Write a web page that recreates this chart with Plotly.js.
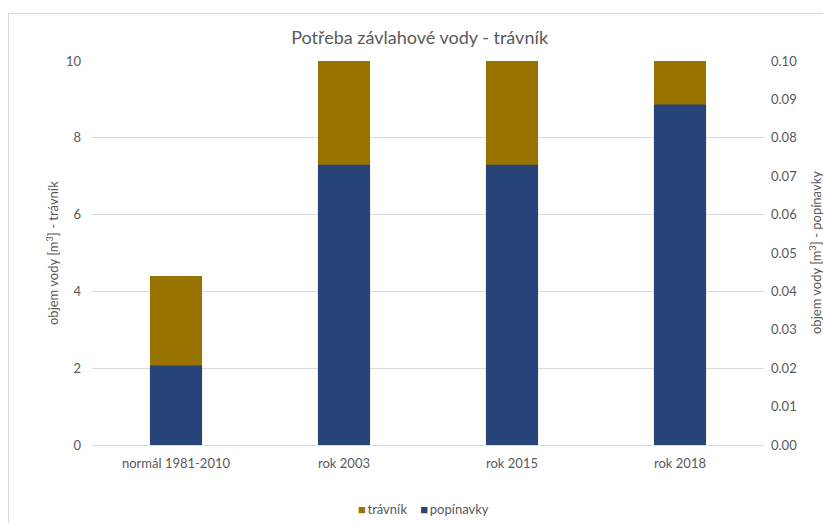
<!DOCTYPE html>
<html>
<head>
<meta charset="utf-8">
<script src="https://cdn.plot.ly/plotly-3.0.1.min.js"></script>
<style>
  html, body { margin: 0; padding: 0; background: #fff; }
  #wrap { position: relative; width: 823px; height: 523px; overflow: hidden; }
  #chart { position: absolute; left: 0; top: 0; width: 823px; height: 523px; }
  #frame { position: absolute; left: 8px; top: 13px; width: 900px; height: 600px;
           border-left: 1px solid #d9d9d9; border-top: 1px solid #d9d9d9; pointer-events: none; }
</style>
</head>
<body>
<div id="wrap">
  <div id="chart"></div>
  <div id="frame"></div>
</div>
<script>
// Water demand per period
const categories = ['normál 1981-2010', 'rok 2003', 'rok 2015', 'rok 2018'];
const travnik = [4.4, 10, 10, 10];                // m3, left axis
const popinavky = [0.0207, 0.073, 0.073, 0.0887]; // m3, right axis
const seriesNames = ['trávník', 'popínavky'];
const seriesColors = ['#997300', '#264478'];
const leftAxisTitle = 'objem vody [m<sup>3</sup>] - trávník';
const rightAxisTitle = 'objem vody [m<sup>3</sup>] - popínavky';

const FONT = 'Lato, "Open Sans", sans-serif';
const GREY = '#595959';

const traces = [
  {
    type: 'bar', name: seriesNames[0], x: categories, y: travnik,
    marker: { color: seriesColors[0] }, width: 0.31, yaxis: 'y'
  },
  {
    type: 'bar', name: seriesNames[1], x: categories, y: popinavky,
    marker: { color: seriesColors[1] }, width: 0.31, yaxis: 'y2'
  }
];

// compact legend row under the plot: coloured square + series name
const legendText = seriesNames.map((n, i) =>
  '<span style="color:' + seriesColors[i] + '">■</span>&#8201;' + n).join('&nbsp;&nbsp;&nbsp;&nbsp;');

const layout = {
  width: 823, height: 523,
  margin: { l: 92, r: 59, t: 61, b: 78 },
  paper_bgcolor: 'rgba(0,0,0,0)', plot_bgcolor: 'rgba(0,0,0,0)',
  font: { family: FONT, color: GREY, size: 13 },
  barmode: 'overlay',
  title: {
    text: 'Potřeba závlahové vody - trávník',
    font: { family: FONT, size: 18, color: GREY },
    x: 0.510, xanchor: 'center', y: 0.927, yanchor: 'middle'
  },
  xaxis: {
    type: 'category', showgrid: false, showline: true, linecolor: '#d9d9d9',
    ticks: '', tickfont: { size: 13, color: GREY }, zeroline: false,
    ticklabelstandoff: 6
  },
  yaxis: {
    range: [0, 10], dtick: 2, showgrid: true, gridcolor: '#d9d9d9',
    zeroline: false, ticks: '', tickfont: { size: 13, color: GREY },
    ticklabelstandoff: 10, fixedrange: true
  },
  yaxis2: {
    range: [0, 0.1], dtick: 0.01, tickformat: '.2f', overlaying: 'y', side: 'right',
    showgrid: false, zeroline: false, ticks: '', tickfont: { size: 13, color: GREY },
    ticklabelstandoff: 6, fixedrange: true
  },
  showlegend: false,
  annotations: [
    {
      text: legendText, xref: 'paper', yref: 'paper', x: 0.493, y: -0.167,
      xanchor: 'center', yanchor: 'middle', showarrow: false,
      font: { family: FONT, size: 13, color: GREY }
    },
    // vertical axis titles
    {
      text: leftAxisTitle, xref: 'paper', yref: 'paper', x: -0.0595, y: 0.5,
      xanchor: 'center', yanchor: 'middle', textangle: -90, showarrow: false,
      font: { family: FONT, size: 13, color: GREY }
    },
    {
      text: rightAxisTitle, xref: 'paper', yref: 'paper', x: 1.0759, y: 0.5,
      xanchor: 'center', yanchor: 'middle', textangle: -90, showarrow: false,
      font: { family: FONT, size: 13, color: GREY }
    }
  ]
};

// make sure the font is measured correctly before laying out the chart
const fontsReady = (document.fonts && document.fonts.load)
  ? Promise.all([document.fonts.load('13px Lato'), document.fonts.load('18px Lato')]).catch(() => {})
  : Promise.resolve();
fontsReady.then(() => {
  Plotly.newPlot('chart', traces, layout, { displayModeBar: false, staticPlot: true });
});
</script>
</body>
</html>
